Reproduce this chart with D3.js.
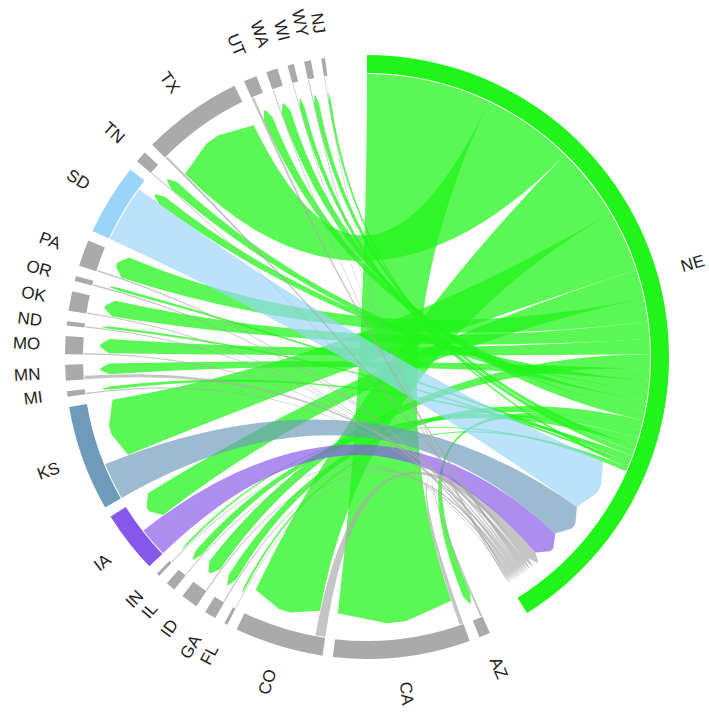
<!DOCTYPE html>
<html><head><meta charset="utf-8">
<script src="https://cdn.jsdelivr.net/npm/d3@7"></script>
<style>body{margin:0;background:#fff}</style>
</head><body>
<svg id="c" width="709" height="715"></svg>
<script>
// ---- data ----
const hub = "NE";
const states = ["AZ","CA","CO","FL","GA","ID","IL","IN","IA","KS","MI","MN","MO","ND","OK","OR","PA","SD","TN","TX","UT","WA","WI","WY","NJ"];
// flows NE -> state (green ribbons)
const fromNE = [34,502,296,9,39,59,32,8,116,250,14,46,62,11,69,13,94,40,40,370,40,40,21,22,11];
// flows state -> NE (ribbons in the state's colour)
const toNE   = [8,16,40,3,5,5,4,4,120,150,6,14,6,5,5,7,6,230,4,10,10,4,3,4,3];
const hubColor = "#20f419";
const stateColors = {SD:"#9ad4f9", KS:"#6e9bb9", IA:"#8757ea"};
const defaultColor = "#aaaaaa";

// ---- layout ----
const cx = 367, cy = 357;
const rOuter = 302, rInner = 284, rLink = 283, rTip = 267, rCorner = 258, rLabel = 327;
const bigGap = 8, smallGap = 2;
const n = states.length;
const S = d3.sum(fromNE) + d3.sum(toNE);
const avail = 360 - 2*bigGap - (n-1)*smallGap;
const ang = d3.scaleLinear().domain([0, 2*S]).range([0, avail]);

const sectors = [{name: hub, start: 0, end: ang(S), color: hubColor}];
let cur = ang(S) + bigGap;
states.forEach((s,i) => {
  const w = ang(fromNE[i] + toNE[i]);
  sectors.push({name: s, start: cur, end: cur + w, color: stateColors[s] || defaultColor, i});
  cur += w + smallGap;
});

// link segments on the hub: outgoing first, then incoming, each sorted by decreasing width
const idx = d3.range(n);
const hubOut = [], hubIn = [];
let p = 0;
idx.slice().sort((a,b) => fromNE[b] - fromNE[a]).forEach(i => { hubOut[i] = [p, p + ang(fromNE[i])]; p += ang(fromNE[i]); });
idx.slice().sort((a,b) => toNE[b] - toNE[a]).forEach(i => { hubIn[i] = [p, p + ang(toNE[i])]; p += ang(toNE[i]); });

const links = [];
states.forEach((s,i) => {
  const sec = sectors[i+1];
  const out = [sec.start, sec.start + ang(toNE[i])];
  const inn = [sec.start + ang(toNE[i]), sec.end];
  links.push({flush: hubOut[i], point: inn, color: hubColor, v: fromNE[i]});
  links.push({flush: out, point: hubIn[i], color: sec.color, v: toNE[i]});
});

const rad = d => (d - 90) * Math.PI / 180;
const pt = (d, r) => [r*Math.cos(rad(d)), r*Math.sin(rad(d))];

function linkPath(l) {
  const [a0,a1] = l.flush, [b0,b1] = l.point;
  const w = b1 - b0;
  const path = d3.path();
  const s0 = pt(a0, rLink);
  path.moveTo(s0[0], s0[1]);
  path.arc(0, 0, rLink, rad(a0), rad(a1), false);
  const c0 = pt(b0, rCorner);
  path.quadraticCurveTo(0, 0, c0[0], c0[1]);
  const t0 = pt(b0 + 0.42*w, rTip), t1 = pt(b0 + 0.58*w, rTip);
  path.lineTo(t0[0], t0[1]);
  path.lineTo(t1[0], t1[1]);
  const c1 = pt(b1, rCorner);
  path.lineTo(c1[0], c1[1]);
  path.quadraticCurveTo(0, 0, s0[0], s0[1]);
  path.closePath();
  return path.toString();
}

const svg = d3.select("#c");
const g = svg.append("g").attr("transform", `translate(${cx},${cy})`);

g.append("g").selectAll("path")
  .data(links.filter(l => l.v > 0))
  .join("path")
  .attr("d", linkPath)
  .attr("fill", d => d.color)
  .attr("fill-opacity", d => d.color === hubColor ? 0.74 : 0.68)
  .attr("stroke", "none");

const arc = d3.arc().innerRadius(rInner).outerRadius(rOuter);
g.append("g").selectAll("path")
  .data(sectors)
  .join("path")
  .attr("d", d => arc({startAngle: d.start*Math.PI/180, endAngle: d.end*Math.PI/180}))
  .attr("fill", d => d.color);

g.append("g").selectAll("text")
  .data(sectors)
  .join("text")
  .attr("transform", d => {
    const m = (d.start + d.end)/2;
    return m < 180 ? `rotate(${m-90}) translate(${rLabel},0)`
                   : `rotate(${m-90}) translate(${rLabel},0) rotate(180)`;
  })
  .attr("text-anchor", d => ((d.start+d.end)/2 < 180 ? "start" : "end"))
  .attr("dominant-baseline", "central")
  .attr("font-family", "Liberation Sans, Arial, sans-serif")
  .attr("font-size", 17)
  .attr("fill", "#222")
  .text(d => d.name);
</script>
</body></html>
